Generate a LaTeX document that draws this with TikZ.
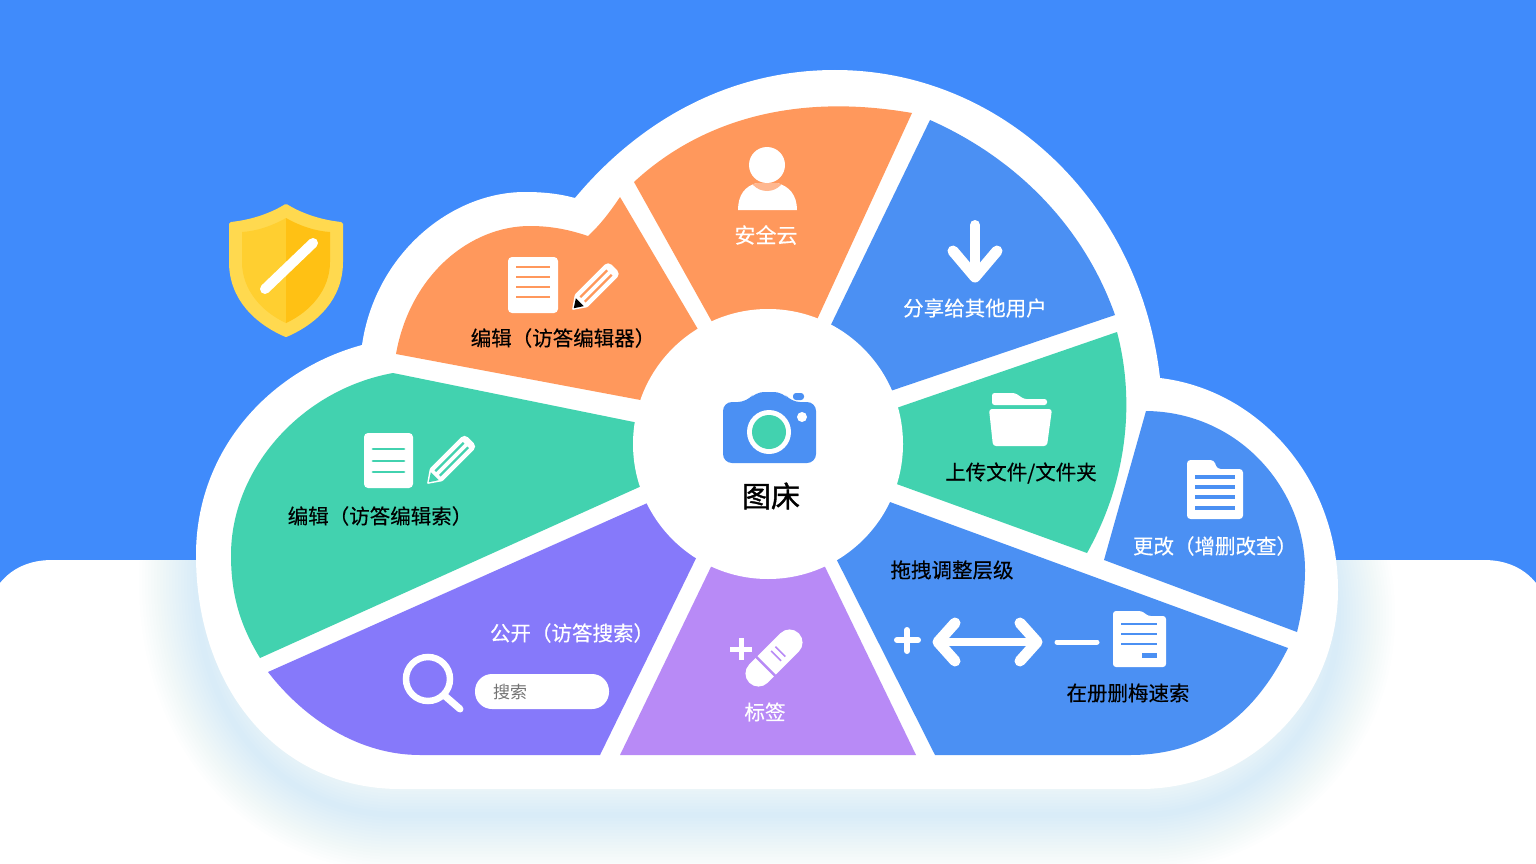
\documentclass[tikz,border=0pt]{standalone}
\usepackage{fontspec}
\setmainfont[FakeBold=0.35]{Noto Sans CJK SC}
\newfontfamily\titlefont[FakeBold=1.3]{Noto Sans CJK SC}
\newfontfamily\plainfont{Noto Sans CJK SC}
\usetikzlibrary{calc}
\definecolor{bgblue}{HTML}{408BFB}
\definecolor{segorange}{HTML}{FF985C}
\definecolor{collar}{HTML}{FFB78F}
\definecolor{segblue}{HTML}{4B90F3}
\definecolor{seggreen}{HTML}{42D2AF}
\definecolor{segviolet}{HTML}{8679FA}
\definecolor{segpurple}{HTML}{B88AF6}
\definecolor{shieldout}{HTML}{FFD94F}
\definecolor{shieldl}{HTML}{FFCF30}
\definecolor{shieldr}{HTML}{FFC114}
\definecolor{softblue}{HTML}{4D94F8}
\newcommand{\cloudoutline}{(400,789) .. controls (280,789) and (196,690) .. (196,555)
  .. controls (196,450) and (270,370) .. (362,345)
  .. controls (375,255) and (450,192) .. (525,192)
  .. controls (545,192) and (560,194) .. (575,198)
  .. controls (640,120) and (730,70) .. (835,70)
  .. controls (1000,70) and (1140,200) .. (1160,378)
  .. controls (1260,390) and (1338,480) .. (1338,590)
  .. controls (1338,700) and (1250,789) .. (1140,789) -- cycle}
\newcommand{\drawpencil}[6]{% x y rot len tip line
  \begin{scope}[shift={(#1,#2)},rotate=#3]
    \fill[white,rounded corners=1pt] (0,0) -- (13,-9) -- (#4-6,-9) [rounded corners=5pt] -- (#4,-9) -- (#4,9) [rounded corners=1pt] -- (13,9) -- cycle;
    \draw[#6,line width=2.4pt] (15,-3.2) -- (#4-7,-3.2) (15,3.2) -- (#4-7,3.2);
    \fill[#5] (2.5,0) -- (11,-5.6) -- (11,5.6) -- cycle;
  \end{scope}}
\tikzset{
  lbl/.style={font=\fontsize{20.5}{24}\selectfont,inner sep=0pt,text=white},
  lblk/.style={lbl,text=black},
  iconline/.style={line width=#1,white,line cap=round,line join=round},
  iconline/.default=6pt
}
\begin{document}
\begin{tikzpicture}[x=1pt,y=-1pt]
\useasboundingbox (0,0) rectangle (1536,864);
\fill[bgblue] (0,0) rectangle (1536,864);
\fill[white] (0,864) -- (0,583) .. controls (12,568) and (30,560) .. (52,560) -- (1484,560) .. controls (1506,560) and (1524,568) .. (1536,583) -- (1536,864) -- cycle;
% soft shadow under the cloud
\begin{scope}
  \clip (0,560) rectangle (1536,864);
  \foreach \w in {6,12,...,114} {
    \draw[softblue,opacity=0.007,line width=\w pt,line join=round,yshift=-26pt] \cloudoutline;
  }
\end{scope}
\fill[white] \cloudoutline;
% segments
\fill[segorange] (769,424) -- (634,182) .. controls (690,130) and (780,90) .. (912,113) -- cycle;
\fill[segblue] (781,428) -- (930,120) .. controls (1020,160) and (1085,230) .. (1115,315) -- cycle;
\fill[seggreen] (789,445) -- (1117,332) .. controls (1135,400) and (1128,480) .. (1087,553) -- cycle;
\fill[segblue] (1146,411) .. controls (1240,412) and (1305,490) .. (1305,570) .. controls (1305,590) and (1302,612) .. (1297,632) -- (1104,560) -- cycle;
\fill[segblue] (789,465) -- (1288,648) .. controls (1255,715) and (1205,755) .. (1130,755) -- (935,755) -- cycle;
\fill[segpurple] (768,449) -- (916,755) -- (620,755) -- cycle;
\fill[segviolet] (744,460) -- (600,755) -- (420,755) .. controls (360,755) and (305,720) .. (268,672) -- cycle;
\fill[seggreen] (737,443) -- (260,658) .. controls (240,625) and (231,595) .. (231,555) .. controls (231,470) and (300,390) .. (393,373) -- cycle;
\fill[segorange] (752,421) -- (396,354) .. controls (410,275) and (470,226) .. (530,226) .. controls (552,226) and (570,230) .. (588,236) .. controls (600,225) and (610,212) .. (620,197) -- cycle;
\fill[white] (768,444) circle [radius=135];
% camera and title
\fill[segblue,rounded corners=9pt] (723,463) -- (723,402) -- (747,402) -- (755,392) -- (783,392) -- (791,402) -- (816,402) -- (816,463) -- cycle;
\fill[segblue,rounded corners=3pt] (793,393) rectangle (804,400);
\fill[white] (769,432) circle [radius=22];
\fill[seggreen] (769,432) circle [radius=17];
\fill[white] (802,417) circle [radius=5];
\node[font=\fontsize{29}{34}\selectfont\titlefont,inner sep=0pt] (title) at (771,496) {图床};
% shield
\filldraw[shieldout,line width=4pt,line join=round] (286,206) .. controls (302,216) and (322,222) .. (341,224) -- (341,262) .. controls (341,298) and (316,322) .. (286,335) .. controls (256,322) and (231,298) .. (231,262) -- (231,224) .. controls (250,222) and (270,216) .. (286,206) -- cycle;
\fill[shieldl] (286,218) .. controls (272,226) and (257,231) .. (242,232) -- (242,262) .. controls (242,290) and (262,312) .. (286,323) -- cycle;
\fill[shieldr] (286,218) .. controls (300,226) and (315,231) .. (330,232) -- (330,262) .. controls (330,290) and (310,312) .. (286,323) -- cycle;
\draw[white,line width=10pt,line cap=round] (265,289) -- (313,243);
% top orange: person
\begin{scope}
  \clip (738,210) .. controls (738,195) and (745,186) .. (757,183) -- (777,183) .. controls (789,186) and (797,195) .. (797,210) -- cycle;
  \fill[white] (730,175) rectangle (805,212);
  \fill[collar] (767,172) circle [radius=19];
\end{scope}
\fill[white] (767,165) circle [radius=18];
\node[lbl,font=\fontsize{21}{24}\selectfont] (safe) at (766,235) {安全云};
% share
\draw[iconline=10pt] (975,225) -- (975,272);
\draw[iconline=11pt] (953,251) -- (975,277) -- (997,251);
\node[lbl] (share) at (975,308) {分享给其他用户};
% folder
\fill[white,rounded corners=2.5pt] (992,405) -- (992,393) -- (1015,393) -- (1024,399) -- (1047,399) -- (1047,405) -- cycle;
\fill[white,rounded corners=3pt] (989,409) -- (1052,409) -- (1047,446) -- (993,446) -- cycle;
\node[lblk] (upload) at (1021,473) {上传文件/文件夹};
% right document
\fill[white,rounded corners=3.5pt] (1187,460) -- (1214,460) -- (1217,469) -- (1243,469) -- (1243,519) -- (1187,519) -- cycle;
\draw[segblue,line width=4.6pt] (1195,477) -- (1235,477) (1195,487) -- (1235,487) (1195,497) -- (1235,497) (1195,508) -- (1235,508);
\node[lbl] (change) at (1215,546) {更改（增删改查）};
% upper left editor
\fill[white,rounded corners=4pt] (508,257) rectangle (558,313);
\draw[segorange,line width=2pt] (516,267) -- (550,267) (516,277) -- (550,277) (516,287) -- (550,287) (516,297) -- (550,297);
\drawpencil{572}{310}{45}{60}{black}{segorange}
\node[lblk] (editor) at (563,338) {编辑（访答编辑器）};
% left editor
\fill[white,rounded corners=4pt] (364,433) rectangle (413,488);
\draw[seggreen,line width=2.8pt,line cap=round] (373,449) -- (404,449) (373,461) -- (404,461) (373,472) -- (404,472);
\drawpencil{427}{484}{45}{62}{seggreen}{seggreen}
\node[lblk] (searchedit) at (380,516) {编辑（访答编辑索）};
% public search
\node[lbl] (public) at (572,633) {公开（访答搜索）};
\draw[white,line width=6.5pt] (428,679) circle [radius=22];
\draw[white,line width=7pt,line cap=round] (445,696) -- (460,709);
\fill[white,rounded corners=17pt] (475,674) rectangle (609,709);
\node[font=\fontsize{17}{20}\selectfont\plainfont,inner sep=0pt,text=black!55] (searchbox) at (510,692) {搜索};
% tag
\draw[white,line width=5pt] (730,649) -- (752,649) (741,638) -- (741,660);
\begin{scope}[shift={(774,658)},rotate=45]
  \fill[white,rounded corners=13pt] (-35,-13) rectangle (35,13);
  \fill[segpurple] (-13,-14) rectangle (-10.5,14);
  \draw[segpurple,line width=1.6pt] (3,-7) -- (3,7) (9,-7) -- (9,7);
\end{scope}
\node[lbl] (tag) at (765,712) {标签};
% bottom blue
\draw[white,line width=6pt,line cap=round] (897,640) -- (918,640) (907,630) -- (907,651);
\draw[white,line width=8pt] (940,642) -- (1035,642);
\draw[iconline=11pt] (955,623) -- (938,642) -- (955,661) (1020,623) -- (1037,642) -- (1020,661);
\draw[white,line width=5pt,line cap=round] (1057,642) -- (1097,642);
\fill[white,rounded corners=3pt] (1113,611) -- (1142,611) -- (1148,616) -- (1166,616) -- (1166,667) -- (1113,667) -- cycle;
\draw[segblue,line width=1.8pt] (1121,624) -- (1157,624) (1121,634) -- (1157,634) (1121,644) -- (1157,644);
\fill[segblue] (1142,653) rectangle (1157,658);
\node[lblk] (drag) at (952,570) {拖拽调整层级};
\node[lblk] (blurred) at (1128,693) {在册删梅速索};
\end{tikzpicture}
\end{document}
